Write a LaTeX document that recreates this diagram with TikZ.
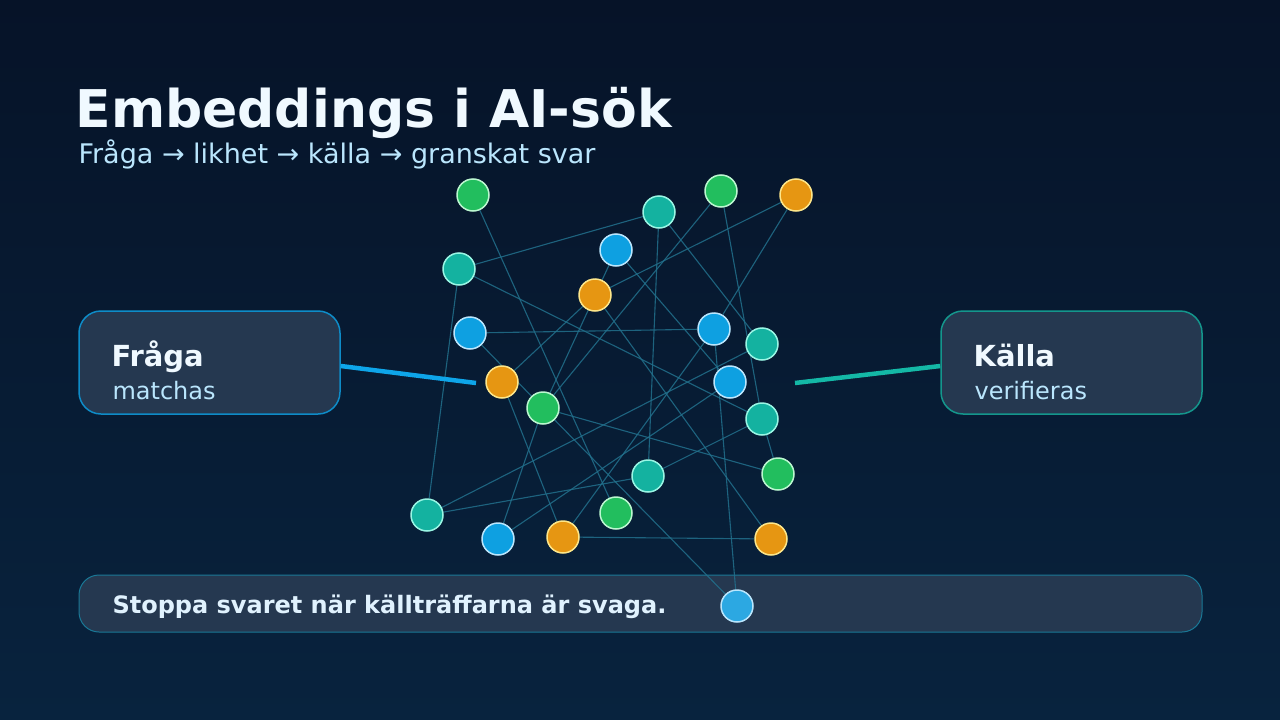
\documentclass[tikz,border=0pt]{standalone}
\usepackage{fontspec}
\setmainfont{DejaVu Sans}
\usetikzlibrary{calc}

\definecolor{bgtop}{RGB}{6,19,40}
\definecolor{bgbot}{RGB}{8,35,62}
\definecolor{panelc}{RGB}{37,56,80}
\definecolor{fragab}{RGB}{14,140,200}
\definecolor{fragac}{RGB}{14,165,233}
\definecolor{kallab}{RGB}{20,150,140}
\definecolor{kallac}{RGB}{20,184,166}
\definecolor{barb}{RGB}{25,120,150}
\definecolor{titlec}{RGB}{240,249,255}
\definecolor{subc}{RGB}{186,230,253}
\definecolor{bartext}{RGB}{224,242,254}
\definecolor{dgreen}{RGB}{34,190,94}
\definecolor{lgreen}{RGB}{187,247,208}
\definecolor{dteal}{RGB}{20,178,160}
\definecolor{lteal}{RGB}{153,246,228}
\definecolor{dorange}{RGB}{230,150,18}
\definecolor{lorange}{RGB}{253,230,138}
\definecolor{dblue}{RGB}{14,160,225}
\definecolor{lblue}{RGB}{186,230,253}
\definecolor{hblue}{RGB}{44,168,226}
\definecolor{linkc}{RGB}{34,112,140}

\pgfdeclarelayer{bg}
\pgfdeclarelayer{links}
\pgfsetlayers{bg,links,main}

\begin{document}
\begin{tikzpicture}[x=1pt,y=1pt,yscale=-1,xscale=1,
  dot/.style={circle,minimum size=32pt,inner sep=0pt,line width=1.5pt},
  gdot/.style={dot,fill=dgreen,draw=lgreen},
  tdot/.style={dot,fill=dteal,draw=lteal},
  odot/.style={dot,fill=dorange,draw=lorange},
  bdot/.style={dot,fill=dblue,draw=lblue},
  link/.style={draw=linkc,line width=1.1pt,opacity=0.85},
  panel/.style={rounded corners=22pt,fill=panelc,line width=1.5pt,inner sep=0pt},
  headtxt/.style={anchor=base west,text=titlec,font=\bfseries\fontsize{29}{34}\selectfont},
  subtxt/.style={anchor=base west,text=subc,font=\fontsize{24}{28}\selectfont}]
\useasboundingbox (0,0) rectangle (1280,720);

\begin{pgfonlayer}{bg}
%Shape: Background
\fill [top color=bgtop,bottom color=bgbot] (0,0) rectangle (1280,720);
%Shape: Panels
\node [panel,draw=fragab,minimum width=261pt,minimum height=103pt] (fraga) at (209.5,362.5) {};
\node [panel,draw=kallab,minimum width=261pt,minimum height=103pt] (kalla) at (1071.5,362.5) {};
\node [panel,rounded corners=20pt,draw=barb,line width=1pt,minimum width=1123pt,minimum height=57pt] (bar) at (640.5,603.5) {};
\end{pgfonlayer}

% Text Node
\node [anchor=base west,text=titlec,font=\bfseries\fontsize{52}{60}\selectfont] (title) at (72,127) {Embeddings i AI-sök};
% Text Node
\node [anchor=base west,text=subc,font=\fontsize{27}{32}\selectfont] (subtitle) at (75,163) {Fråga → likhet → källa → granskat svar};
% Text Node
\node [headtxt] (fragahead) at (108,366) {Fråga};
\node [subtxt] (fragasub) at (109,399) {matchas};
% Text Node
\node [headtxt] (kallahead) at (970,366) {Källa};
\node [subtxt] (kallasub) at (971,399) {verifieras};
% Text Node
\node [anchor=base west,text=bartext,font=\bfseries\fontsize{24}{28}\selectfont] (stopp) at (109,613) {Stoppa svaret när källträffarna är svaga.};

%Shape: Circle
\node [gdot] (g1) at (473,195) {};
\node [tdot] (t1) at (659,212) {};
\node [gdot] (g2) at (721,191) {};
\node [odot] (o1) at (796,195) {};
\node [bdot] (b1) at (616,250) {};
\node [tdot] (t2) at (459,269) {};
\node [odot] (o2) at (595,295) {};
\node [bdot] (b2) at (470,333) {};
\node [bdot] (b3) at (714,329) {};
\node [tdot] (t3) at (762,344) {};
\node [odot] (o3) at (502,382) {};
\node [bdot] (b4) at (730,382) {};
\node [gdot] (g3) at (543,408) {};
\node [tdot] (t4) at (762,419) {};
\node [tdot] (t5) at (648,476) {};
\node [gdot] (g4) at (778,474) {};
\node [tdot] (t6) at (427,515) {};
\node [gdot] (g5) at (616,513) {};
\node [bdot] (b5) at (498,539) {};
\node [odot] (o4) at (563,537) {};
\node [odot] (o5) at (771,539) {};
\node [dot,fill=hblue,draw=lblue] (b6) at (737,606) {};

%Shape: Links
\begin{pgfonlayer}{links}
\foreach \a/\b in {t2/t1,t2/t4,t2/t6,g1/g5,t1/t5,t1/t3,g2/g3,g2/t4,o1/o2,o1/b3,
  b1/b4,b1/g3,b2/b3,b2/g3,o3/o4,o3/o2,b3/b6,t3/t6,t4/t5,g3/g4,t4/g4,t6/t5,
  o4/o5,o2/o5,g3/b6,b5/g3,b5/b4,o4/b3}
  \draw [link] (\a) -- (\b);
\end{pgfonlayer}

%Shape: Connectors
\coordinate (fragaend) at (476,383);
\coordinate (kallaend) at (795,383);
\draw [draw=fragac,line width=4.5pt] ($(fraga.east)+(0,3.5)$) -- (fragaend);
\draw [draw=kallac,line width=4.5pt] ($(kalla.west)+(0,3.5)$) -- (kallaend);

\end{tikzpicture}
\end{document}
